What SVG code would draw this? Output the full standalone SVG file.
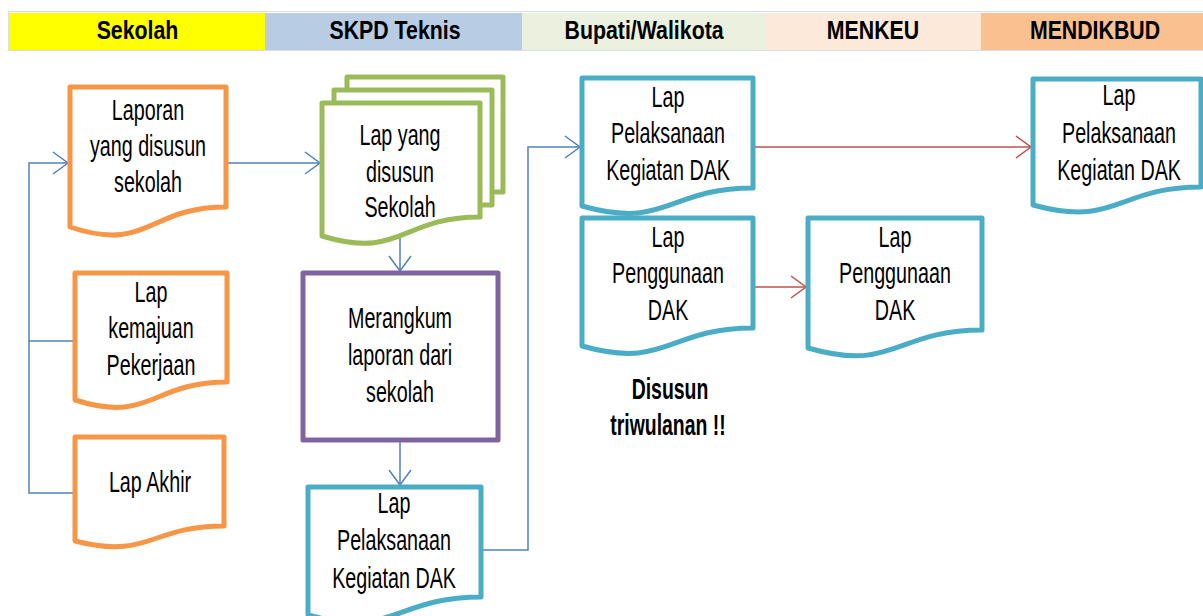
<svg xmlns="http://www.w3.org/2000/svg" width="1203" height="616" viewBox="0 0 1203 616">
  <style>
    .lane { font-family: "Liberation Sans", Arial, sans-serif; font-weight: bold; font-size: 26px; text-anchor: middle; fill: #000; transform-box: fill-box; transform-origin: center; transform: scaleX(0.82); }
    .t { font-family: "Liberation Sans", Arial, sans-serif; font-size: 29px; text-anchor: middle; fill: #000; transform-box: fill-box; transform-origin: center; transform: scaleX(0.68); }
    .note { font-family: "Liberation Sans", Arial, sans-serif; font-weight: bold; font-size: 29px; text-anchor: middle; fill: #000; transform-box: fill-box; transform-origin: center; transform: scaleX(0.67); }
    .shape { fill: #fff; stroke-width: 5; stroke-linejoin: round; }
    .orange { stroke: #F79646; }
    .green { stroke: #9BBB59; }
    .purple { stroke: #8064A2; }
    .teal { stroke: #4BACC6; }
    .blue-line { fill: none; stroke: #4F81BD; stroke-width: 1.5; }
    .red-line { fill: none; stroke: #C0504D; stroke-width: 1.5; }
  </style>
  <defs>
    <marker id="arrow-blue" viewBox="-17 -13 20 26" markerWidth="20" markerHeight="26" refX="0" refY="0" orient="auto" markerUnits="userSpaceOnUse">
      <path d="M-15,-11 L0,0 L-15,11" fill="none" stroke="#4F81BD" stroke-width="1.5"/>
    </marker>
    <marker id="arrow-red" viewBox="-17 -13 20 26" markerWidth="20" markerHeight="26" refX="0" refY="0" orient="auto" markerUnits="userSpaceOnUse">
      <path d="M-15,-11 L0,0 L-15,11" fill="none" stroke="#C0504D" stroke-width="1.5"/>
    </marker>
  </defs>

  <rect width="1203" height="616" fill="#fff"/>

  <!-- swimlane header -->
  <g id="lanes">
    <rect x="8.5" y="11.5" width="1200" height="39" fill="none" stroke="#d9dde4" stroke-width="1"/>
    <rect x="9" y="13" width="256" height="37" fill="#FFFF00"/>
    <rect x="265" y="13" width="257" height="37" fill="#B8CCE4"/>
    <rect x="522" y="13" width="243" height="37" fill="#EBF1DE"/>
    <rect x="765" y="13" width="216" height="37" fill="#FDE9D9"/>
    <rect x="981" y="13" width="222" height="37" fill="#FAC090"/>
    <text class="lane" x="137.5" y="39">Sekolah</text>
    <text class="lane" x="395" y="39">SKPD Teknis</text>
    <text class="lane" x="644" y="39">Bupati/Walikota</text>
    <text class="lane" x="873" y="39">MENKEU</text>
    <text class="lane" x="1095" y="39">MENDIKBUD</text>
  </g>

  <!-- connectors -->
  <g id="connectors">
    <path class="blue-line" d="M75,493 H29 V163 H68" marker-end="url(#arrow-blue)"/>
    <path class="blue-line" d="M29,341 H75"/>
    <path class="blue-line" d="M228,163 H320" marker-end="url(#arrow-blue)"/>
    <path class="blue-line" d="M400,238 V271" marker-end="url(#arrow-blue)"/>
    <path class="blue-line" d="M400,442 V485" marker-end="url(#arrow-blue)"/>
    <path class="blue-line" d="M481,550 H528 V147 H580" marker-end="url(#arrow-blue)"/>
    <path class="red-line" d="M755,147 H1031" marker-end="url(#arrow-red)"/>
    <path class="red-line" d="M755,287 H806" marker-end="url(#arrow-red)"/>
  </g>

  <!-- Sekolah -->
  <g id="laporan-sekolah">
    <path class="shape orange" d="M70,87 H226 V207 C148,207 148,253 70,227 Z"/>
    <text class="t" x="148" y="120">Laporan</text>
    <text class="t" x="148" y="156">yang disusun</text>
    <text class="t" x="148" y="192">sekolah</text>
  </g>
  <g id="lap-kemajuan">
    <path class="shape orange" d="M75,273 H227 V382 C151,382 151,424 75,400 Z"/>
    <text class="t" x="151" y="302">Lap</text>
    <text class="t" x="151" y="338">kemajuan</text>
    <text class="t" x="151" y="375">Pekerjaan</text>
  </g>
  <g id="lap-akhir">
    <path class="shape orange" d="M75,437 H224 V526 C149.5,526 149.5,560 75,541 Z"/>
    <text class="t" x="150" y="492">Lap Akhir</text>
  </g>

  <!-- SKPD Teknis -->
  <g id="lap-disusun-sekolah">
    <rect class="shape green" x="347" y="77" width="156" height="115"/>
    <rect class="shape green" x="334" y="90" width="158" height="115"/>
    <path class="shape green" d="M322,103 H480 V217 C401,217 401,260 322,236 Z"/>
    <text class="t" x="400" y="145">Lap yang</text>
    <text class="t" x="400" y="182">disusun</text>
    <text class="t" x="400" y="217">Sekolah</text>
  </g>
  <g id="merangkum">
    <rect class="shape purple" x="303" y="273" width="195" height="167"/>
    <text class="t" x="400" y="328">Merangkum</text>
    <text class="t" x="400" y="365">laporan dari</text>
    <text class="t" x="400" y="402">sekolah</text>
  </g>
  <g id="lap-pelaksanaan-skpd">
    <path class="shape teal" d="M308,487 H481 V597 C394.5,597 394.5,639 308,615 Z"/>
    <text class="t" x="394" y="513">Lap</text>
    <text class="t" x="394" y="550">Pelaksanaan</text>
    <text class="t" x="394" y="588">Kegiatan DAK</text>
  </g>

  <!-- Bupati/Walikota -->
  <g id="lap-pelaksanaan-bupati">
    <path class="shape teal" d="M582,78 H753 V188 C667.5,188 667.5,230 582,206 Z"/>
    <text class="t" x="668" y="107">Lap</text>
    <text class="t" x="668" y="143">Pelaksanaan</text>
    <text class="t" x="668" y="180">Kegiatan DAK</text>
  </g>
  <g id="lap-penggunaan-bupati">
    <path class="shape teal" d="M582,218 H753 V328 C667.5,328 667.5,370 582,346 Z"/>
    <text class="t" x="668" y="247">Lap</text>
    <text class="t" x="668" y="283">Penggunaan</text>
    <text class="t" x="668" y="320">DAK</text>
  </g>
  <g id="disusun-triwulanan">
    <text class="note" x="670" y="399">Disusun</text>
    <text class="note" x="668" y="435">triwulanan !!</text>
  </g>

  <!-- MENKEU -->
  <g id="lap-penggunaan-menkeu">
    <path class="shape teal" d="M808,218 H982 V330 C895,330 895,373 808,348 Z"/>
    <text class="t" x="895" y="247">Lap</text>
    <text class="t" x="895" y="283">Penggunaan</text>
    <text class="t" x="895" y="320">DAK</text>
  </g>

  <!-- MENDIKBUD -->
  <g id="lap-pelaksanaan-mendikbud">
    <path class="shape teal" d="M1033,79 H1201 V187 C1117,187 1117,228 1033,205 Z"/>
    <text class="t" x="1119" y="105">Lap</text>
    <text class="t" x="1119" y="143">Pelaksanaan</text>
    <text class="t" x="1119" y="180">Kegiatan DAK</text>
  </g>
</svg>
